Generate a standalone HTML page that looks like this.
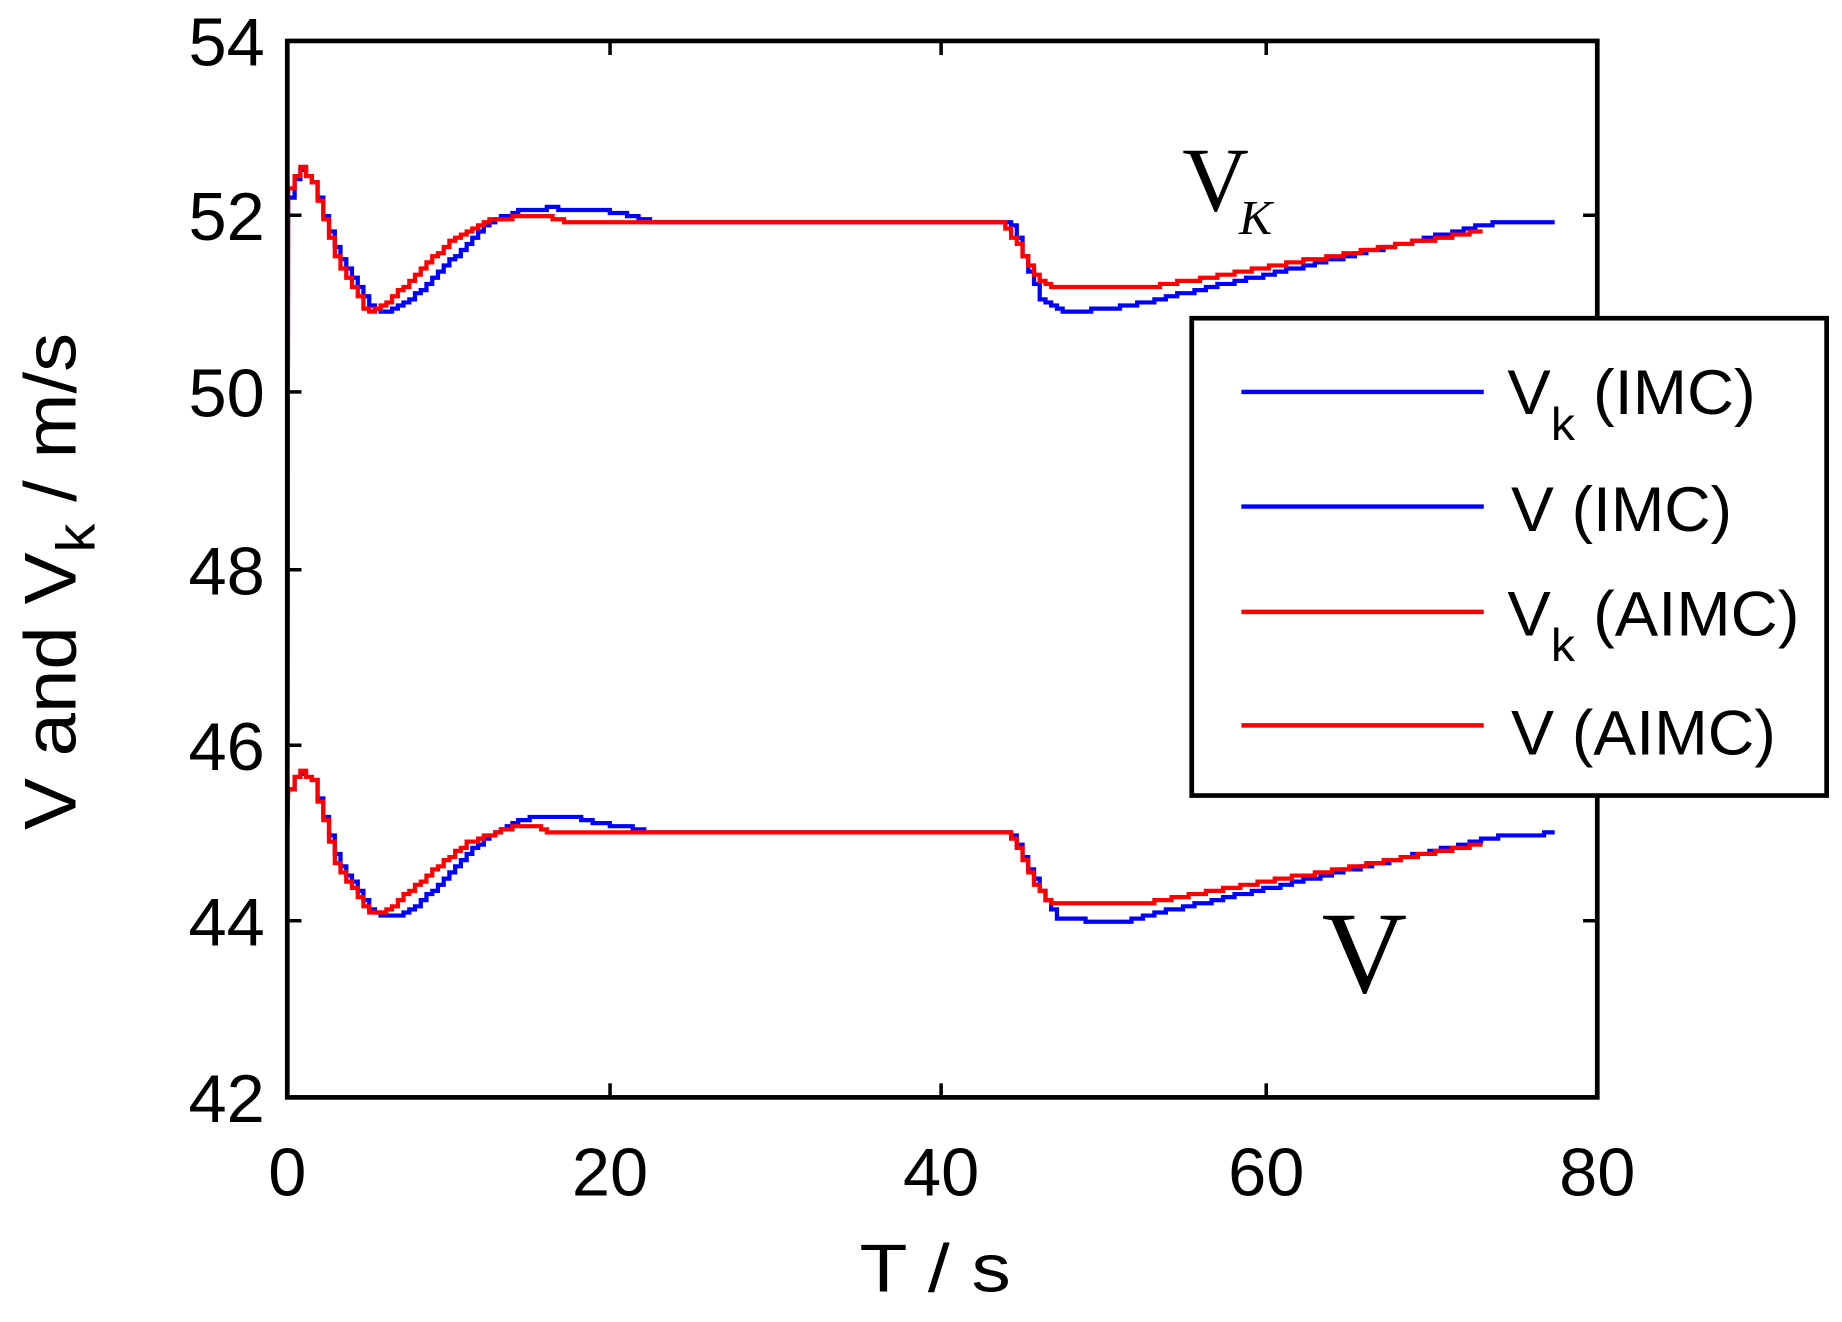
<!DOCTYPE html>
<html><head><meta charset="utf-8"><style>html,body{margin:0;padding:0;background:#fff}svg{display:block}</style></head>
<body>
<svg id="s" width="1842" height="1322" viewBox="0 0 1558 1130" preserveAspectRatio="none" xmlns="http://www.w3.org/2000/svg" font-family="Liberation Sans, Arial, sans-serif">
<rect width="1558" height="1130" fill="#fff"/>
<g id="series" fill="none" stroke-width="3.6" stroke-linejoin="miter"></g>
<rect x="243" y="35" width="1108" height="903" fill="none" stroke="#000" stroke-width="4"/>
<g stroke="#000" stroke-width="3">
<line x1="516" y1="938" x2="516" y2="926"/><line x1="796" y1="938" x2="796" y2="926"/><line x1="1071" y1="938" x2="1071" y2="926"/>
<line x1="516" y1="35" x2="516" y2="47"/><line x1="796" y1="35" x2="796" y2="47"/><line x1="1071" y1="35" x2="1071" y2="47"/>
<line x1="243" y1="184" x2="255" y2="184"/><line x1="243" y1="335" x2="255" y2="335"/><line x1="243" y1="487" x2="255" y2="487"/><line x1="243" y1="637" x2="255" y2="637"/><line x1="243" y1="787" x2="255" y2="787"/>
<line x1="1351" y1="184" x2="1339" y2="184"/><line x1="1351" y1="787" x2="1339" y2="787"/>
</g>
<g font-size="58" text-anchor="end" fill="#000">
<text x="224" y="56">54</text><text x="224" y="205">52</text><text x="224" y="356">50</text><text x="224" y="508">48</text><text x="224" y="658">46</text><text x="224" y="808">44</text><text x="224" y="959">42</text>
</g>
<g font-size="58" text-anchor="middle" fill="#000">
<text x="243" y="1022">0</text><text x="516" y="1022">20</text><text x="796" y="1022">40</text><text x="1071" y="1022">60</text><text x="1351" y="1022">80</text>
<text x="791" y="1104" textLength="128" lengthAdjust="spacingAndGlyphs">T / s</text>
</g>
<text transform="translate(64,497) rotate(-90)" font-size="62" text-anchor="middle" textLength="425" lengthAdjust="spacingAndGlyphs">V and V<tspan font-size="46" dy="16">k</tspan><tspan dy="-16"> / m/s</tspan></text>
<text x="1000" y="180" font-family="Liberation Serif, serif" font-size="78">V</text>
<text x="1048" y="200" font-family="Liberation Serif, serif" font-style="italic" font-size="42">K</text>
<text x="1118" y="848" font-family="Liberation Serif, serif" font-size="100">V</text>
<rect x="1008" y="272" width="537" height="408" fill="#fff" stroke="#000" stroke-width="4"/>
<g stroke-width="3.8">
<line x1="1050" y1="335" x2="1255" y2="335" stroke="#0000ff"/>
<line x1="1050" y1="433" x2="1255" y2="433" stroke="#0000ff"/>
<line x1="1050" y1="523" x2="1255" y2="523" stroke="#ff0000"/>
<line x1="1050" y1="620" x2="1255" y2="620" stroke="#ff0000"/>
</g>
<g font-size="54" fill="#000">
<text x="1275" y="354" textLength="210" lengthAdjust="spacingAndGlyphs">V<tspan font-size="40" dy="22">k</tspan><tspan dy="-22"> (IMC)</tspan></text>
<text x="1278" y="454" textLength="187" lengthAdjust="spacingAndGlyphs">V (IMC)</text>
<text x="1275" y="543" textLength="247" lengthAdjust="spacingAndGlyphs">V<tspan font-size="40" dy="22">k</tspan><tspan dy="-22"> (AIMC)</tspan></text>
<text x="1278" y="645" textLength="224" lengthAdjust="spacingAndGlyphs">V (AIMC)</text>
</g>
</svg>
<script>
function X(t){return 243+t*13.85}
function Y(v){return 35+(54-v)*75.25}
function build(kp,col){
  var pts=[];var prevY=null;
  var t1=kp[kp.length-1][0];
  function val(t){for(var i=0;i<kp.length-1;i++){if(t<=kp[i+1][0]){var a=kp[i],b=kp[i+1];return a[1]+(b[1]-a[1])*(t-a[0])/(b[0]-a[0]);}}return kp[kp.length-1][1];}
  pts.push([X(0),Y(kp[0][1])]);
  pts.push([X(0.05),Y(kp[1][1])]);
  for(var t=0.1;t<=t1+1e-9;t+=0.35){
    var v=Math.round(val(t)/0.035)*0.035;
    var x=X(t),y=Y(v);
    if(prevY!==null&&Math.abs(prevY-y)>0.01){pts.push([x,prevY]);}
    pts.push([x,y]);prevY=y;
  }
  pts.push([X(t1),prevY]);
  var p=document.createElementNS("http://www.w3.org/2000/svg","polyline");
  p.setAttribute("points",pts.map(function(q){return q[0].toFixed(1)+","+q[1].toFixed(1)}).join(" "));
  p.setAttribute("stroke",col);
  document.getElementById("series").appendChild(p);
}
var bVk=[[0,45],[0.05,52.2],[0.7,52.55],[1.5,52.4],[3,51.6],[5,51.0],[5.5,50.93],[6.5,50.95],[8,51.15],[12,51.9],[14,52.08],[16,52.1],[18.5,52.08],[20,52.05],[22,51.95],[43.8,51.95],[44.3,51.9],[45,51.5],[46,51.05],[47.5,50.93],[50,50.95],[52,51.02],[74,51.95],[77.4,51.95]];
var rVk=[[0,45],[0.05,52.3],[0.7,52.58],[1.5,52.4],[3,51.5],[4.8,50.93],[5.5,50.95],[7,51.2],[10,51.75],[12,51.95],[14,52.0],[16,52.0],[17,51.95],[43.5,51.95],[44.5,51.7],[45.5,51.35],[46.5,51.2],[52.5,51.2],[73,51.85]];
var bV=[[0,45],[0.05,45.5],[0.7,45.7],[1.5,45.6],[3,44.7],[5,44.15],[5.8,44.05],[7,44.07],[8,44.2],[12,44.95],[14,45.15],[16,45.2],[17,45.2],[18,45.15],[20,45.08],[21.5,45.05],[22,45.0],[44,45.0],[44.5,44.9],[45.5,44.5],[47,44.02],[51,44.0],[52,44.05],[74,44.97],[77.4,45.0]];
var rV=[[0,45],[0.05,45.5],[0.7,45.72],[1.5,45.6],[3,44.6],[5,44.1],[6,44.12],[9,44.6],[11,44.9],[13,45.03],[14,45.08],[15,45.08],[16,45.0],[44,45.0],[44.5,44.85],[45.5,44.45],[46.5,44.2],[52,44.2],[73,44.88]];
build(bVk,"#0000ff");build(bV,"#0000ff");build(rVk,"#ff0000");build(rV,"#ff0000");
</script>
</body></html>
